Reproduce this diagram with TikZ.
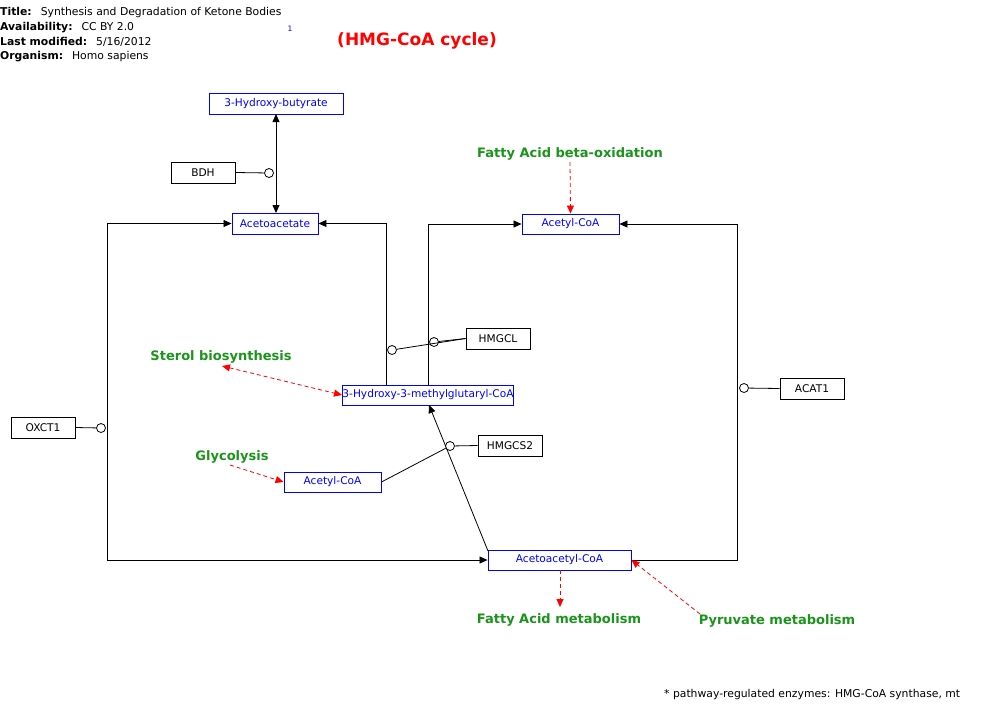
\documentclass[tikz,border=0pt]{standalone}
\usepackage{fontspec}
\setmainfont{DejaVu Sans}
\usetikzlibrary{arrows.meta}
\definecolor{pwgreen}{RGB}{26,148,26}
\begin{document}
\begin{tikzpicture}[x=1pt,y=-1pt,
  box/.style={draw,line width=0.9pt,inner sep=0pt,font=\fontsize{10.6}{12}\selectfont},
  metab/.style={box,draw=blue,text=blue},
  gene/.style={box,draw=black,text=black},
  lbl/.style={text=pwgreen,font=\fontsize{13}{15}\selectfont\bfseries,inner sep=0pt},
  circ/.style={circle,draw,fill=white,line width=0.8pt,minimum size=9pt,inner sep=0pt},
  ln/.style={line width=0.8pt,black},
  tip/.tip={Triangle[length=8pt,width=7pt]},
  arr/.style={ln,-tip},
  rd/.style={red,line width=0.8pt,dash pattern=on 4pt off 3pt,-{Triangle[length=8pt,width=7pt]}},
  hdr/.style={anchor=west,inner sep=0pt,font=\fontsize{10.8}{12}\selectfont}
]
\useasboundingbox (0,0) rectangle (1000,716);
% header
\node[hdr] (t1) at (0,12.5) {\textbf{Title:}\hspace{9pt}Synthesis and Degradation of Ketone Bodies};
\node[hdr] (t2) at (0,27.5) {\textbf{Availability:}\hspace{9pt}CC BY 2.0};
\node[hdr] (t3) at (0,41.5) {\textbf{Last modified:}\hspace{9pt}5/16/2012};
\node[hdr] (t4) at (0,56.5) {\textbf{Organism:}\hspace{9pt}Homo sapiens};
\node[text=blue,inner sep=0pt,font=\fontsize{7.5}{8}\selectfont] (one) at (290,29) {1};
\node[text=red,inner sep=0pt,font=\fontsize{17}{19}\selectfont\bfseries] (ttl) at (417,41) {(HMG-CoA cycle)};
% metabolites
\node[metab,minimum width=134pt,minimum height=21pt] (hb) at (276,103.5) {3-Hydroxy-butyrate};
\node[metab,minimum width=86pt,minimum height=21pt] (aa) at (275,223.5) {Acetoacetate};
\node[metab,minimum width=97pt,minimum height=20pt] (acoa1) at (570.5,224) {Acetyl-CoA};
\node[metab,minimum width=170pt,minimum height=20pt] (hmg) at (428,395) {3-Hydroxy-3-methylglutaryl-CoA};
\node[metab,minimum width=97pt,minimum height=20pt] (acoa2) at (332.5,482) {Acetyl-CoA};
\node[metab,minimum width=143pt,minimum height=20pt] (aacoa) at (559.5,560) {Acetoacetyl-CoA};
% genes
\node[gene,minimum width=64pt,minimum height=21pt] (bdh) at (203,172.5) {BDH};
\node[gene,minimum width=64pt,minimum height=21pt] (hmgcl) at (498,338.5) {HMGCL};
\node[gene,minimum width=64pt,minimum height=21pt] (acat) at (812,388.5) {ACAT1};
\node[gene,minimum width=64pt,minimum height=21pt] (oxct) at (43,427.5) {OXCT1};
\node[gene,minimum width=64pt,minimum height=21pt] (hmgcs) at (510,445.5) {HMGCS2};
% labels
\node[lbl] (fabo) at (570,154) {Fatty Acid beta-oxidation};
\node[lbl] (sterol) at (221,357) {Sterol biosynthesis};
\node[lbl] (glyc) at (232,457) {Glycolysis};
\node[lbl] (fam) at (559,620) {Fatty Acid metabolism};
\node[lbl] (pyr) at (777,621) {Pyruvate metabolism};
\node[anchor=west,inner sep=0pt,font=\fontsize{10.8}{12}\selectfont] (foot) at (664,694.5) {* pathway-regulated enzymes: HMG-CoA synthase, mt};
% coordinates
\coordinate (h1) at (386,385);
\coordinate (h2) at (428,385);
\coordinate (lc) at (107.5,400);
\coordinate (rc) at (737.5,400);
\coordinate (fabos) at (570,162);
\coordinate (sts) at (222,366);
\coordinate (gls) at (230,465);
\coordinate (fame) at (560,607);
\coordinate (pyrs) at (700,614);
\coordinate (hb1) at (276,114);
\coordinate (aa1) at (276,213);
\coordinate (hmgb) at (429,405);
\coordinate (aacoat) at (488,551);
% reactions
\draw[ln,tip-tip] (hb1) -- (aa1);
\draw[arr] (h1) |- (aa.east);
\draw[arr] (h2) |- (acoa1.west);
\draw[ln,tip-tip] (aa.west) -| (lc) |- (aacoa.west);
\draw[arr] (aacoa.east) -| (rc) |- (acoa1.east);
\draw[arr] (aacoat) -- (hmgb);
% catalysis
\node[circ] (c1) at (269,173) {};
\node[circ] (c2) at (392,350) {};
\node[circ] (c3) at (434,342) {};
\node[circ] (c4) at (744,388) {};
\node[circ] (c5) at (101,428) {};
\node[circ] (c6) at (450,446) {};
\draw[ln] (bdh.east) -- (c1);
\draw[ln] (hmgcl.west) -- (c3);
\draw[ln] (hmgcl.west) -- (c2);
\draw[ln] (acat.west) -- (c4);
\draw[ln] (oxct.east) -- (c5);
\draw[ln] (hmgcs.west) -- (c6);
\draw[ln] (acoa2.east) -- (c6);
% pathway links
\draw[rd] (fabos) -- (acoa1.north);
\draw[rd,{Triangle[length=8pt,width=7pt]}-{Triangle[length=8pt,width=7pt]}] (sts) -- (hmg.west);
\draw[rd] (gls) -- (acoa2.west);
\draw[rd] (aacoa.south -| fame) -- (fame);
\draw[rd] (pyrs) -- (aacoa.east);
\end{tikzpicture}
\end{document}
